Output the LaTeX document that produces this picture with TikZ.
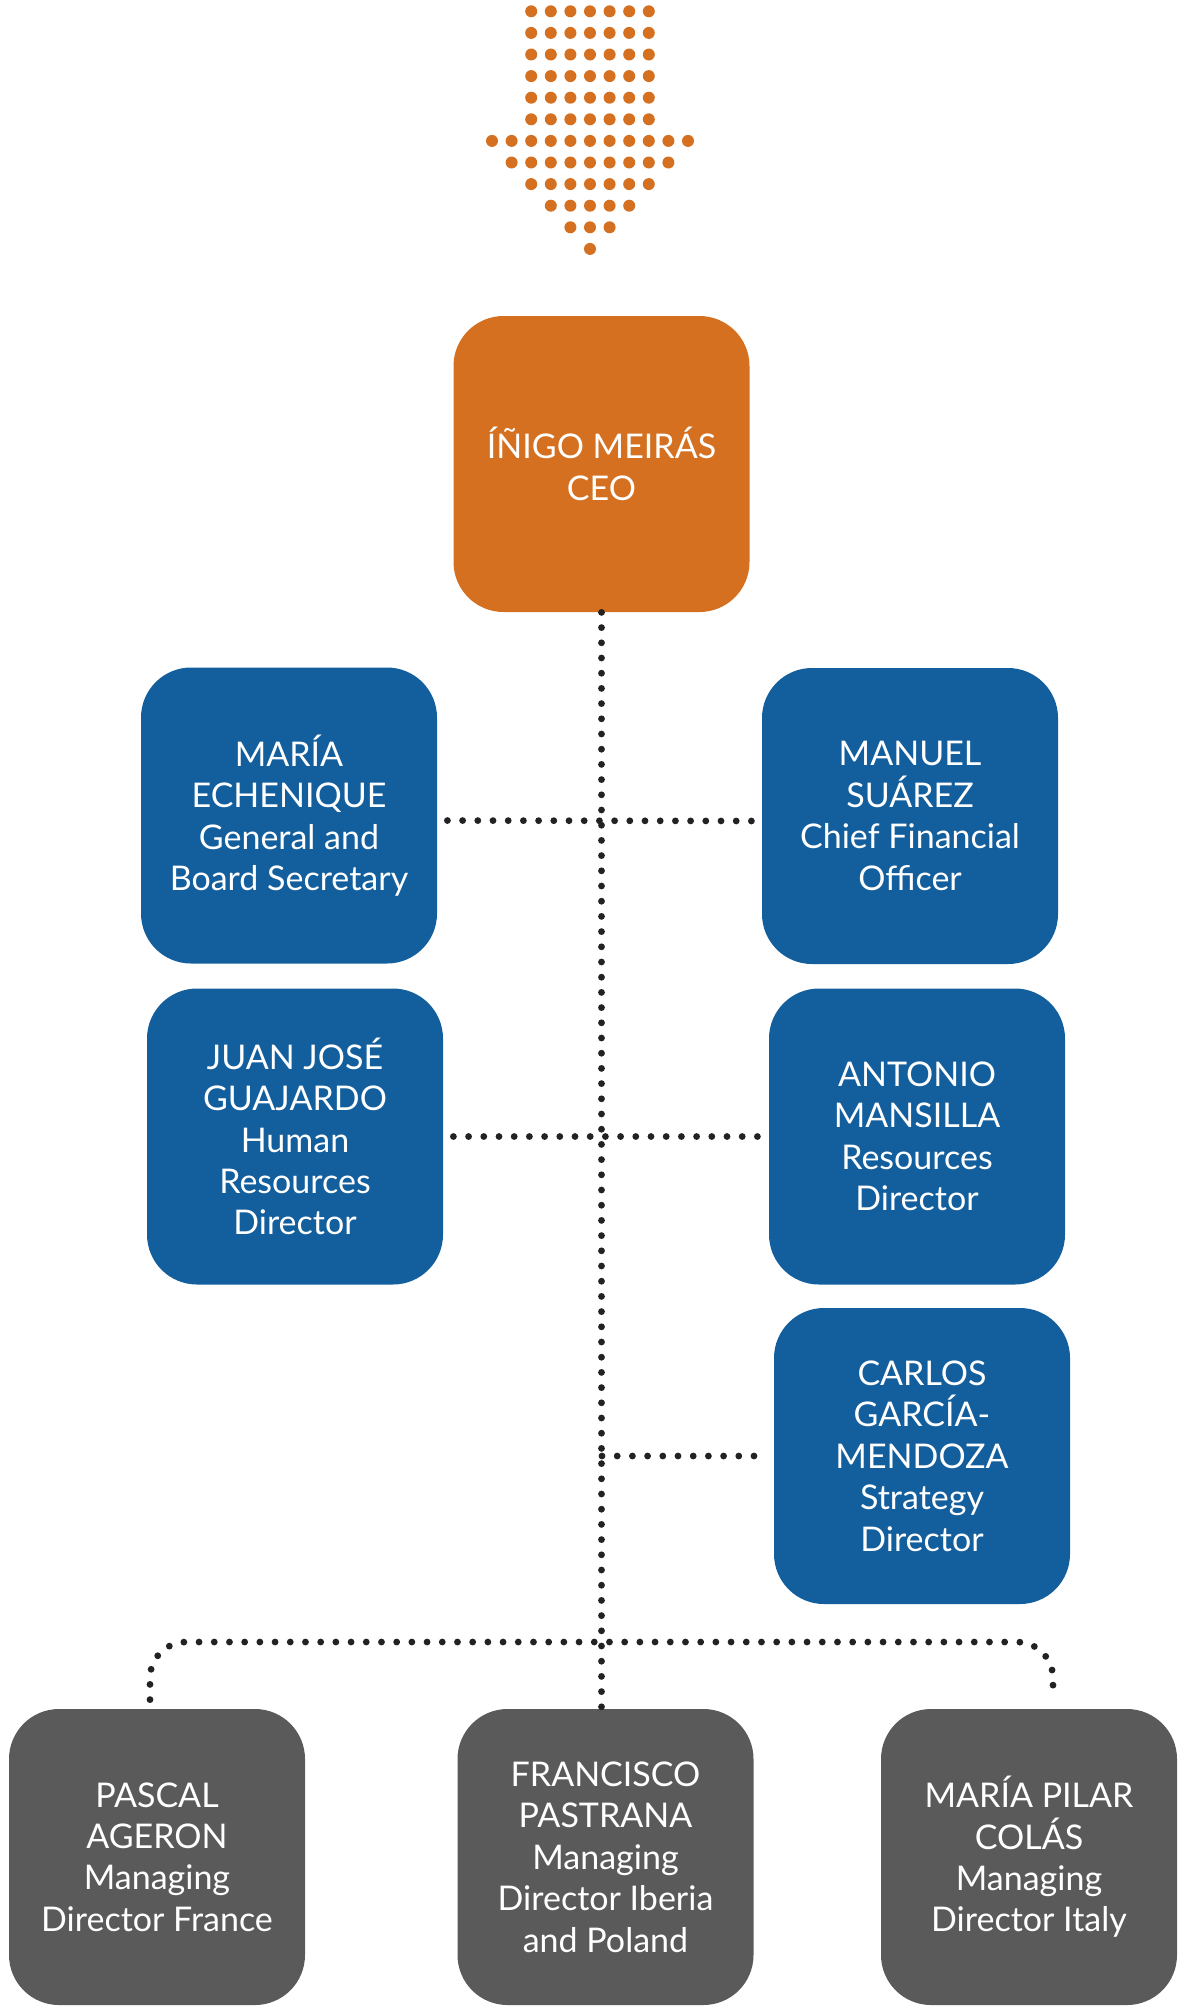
\documentclass[tikz,border=0pt]{standalone}
\usepackage{fontspec}
\setmainfont{Lato}
\definecolor{ceoorange}{HTML}{D4701F}
\definecolor{dirblue}{HTML}{135E9C}
\definecolor{mdgray}{HTML}{5A5A5A}
\definecolor{linkgray}{HTML}{222222}
\tikzset{
  box/.style={rounded corners=25pt, minimum width=148pt, minimum height=148pt,
    inner sep=0pt, align=center, text=white, font=\fontsize{17}{20.7}\selectfont},
  ceobox/.style={box, fill=ceoorange},
  dirbox/.style={box, fill=dirblue},
  mdbox/.style={box, fill=mdgray},
  link/.style={draw=linkgray, line width=3.4pt, line cap=round,
    dash pattern=on 0pt off 7.6pt},
  arrowdot/.style={fill=ceoorange}
}
\begin{document}
\begin{tikzpicture}[x=0.5pt,y=-0.5pt]
  \useasboundingbox (0,0) rectangle (1183,2008);
  % dotted arrow
  \foreach \r/\h in {0/3,1/3,2/3,3/3,4/3,5/3,6/5,7/4,8/3,9/2,10/1,11/0}
    \foreach \c in {-\h,...,\h}
      \fill[arrowdot] (590+19.6*\c, 11.3+21.6*\r) circle (3pt);
  % boxes
  \node[ceobox] (ceo)   at (601.5,464)  {ÍÑIGO MEIRÁS\\CEO};
  \node[dirbox] (sec)   at (289,815.5)  {MARÍA\\ECHENIQUE\\General and\\Board Secretary};
  \node[dirbox] (cfo)   at (910,816)    {MANUEL\\SUÁREZ\\Chief Financial\\Officer};
  \node[dirbox] (hr)    at (295,1136.5) {JUAN JOSÉ\\GUAJARDO\\Human\\Resources\\Director};
  \node[dirbox] (res)   at (917,1136.5) {ANTONIO\\MANSILLA\\Resources\\Director};
  \node[dirbox] (strat) at (922,1456)   {CARLOS\\GARCÍA-\\MENDOZA\\Strategy\\Director};
  \node[mdbox]  (fra)   at (157,1857)   {PASCAL\\AGERON\\Managing\\Director France};
  \node[mdbox]  (ibe)   at (605.5,1857) {FRANCISCO\\PASTRANA\\Managing\\Director Iberia\\and Poland};
  \node[mdbox]  (ita)   at (1029,1857)  {MARÍA PILAR\\COLÁS\\Managing\\Director Italy};
  % links
  \coordinate (bar) at (602,1642);
  \draw[link] (ceo.south) -- (ceo.south |- ibe.north);
  \draw[link, shorten <=5pt, shorten >=5pt] ([yshift=-2.5pt]sec.east) -- ([yshift=-2.5pt]cfo.west);
  \draw[link, shorten <=5pt, shorten >=5pt] (hr.east) -- (res.west);
  \draw[link, shorten >=3pt] (bar |- strat.west) -- (strat.west);
  \draw[link, rounded corners=18pt] ([xshift=-3.5pt,yshift=4.5pt]fra.north) |- (bar)
    -| ([xshift=12pt,yshift=4.5pt]ita.north);
\end{tikzpicture}
\end{document}
